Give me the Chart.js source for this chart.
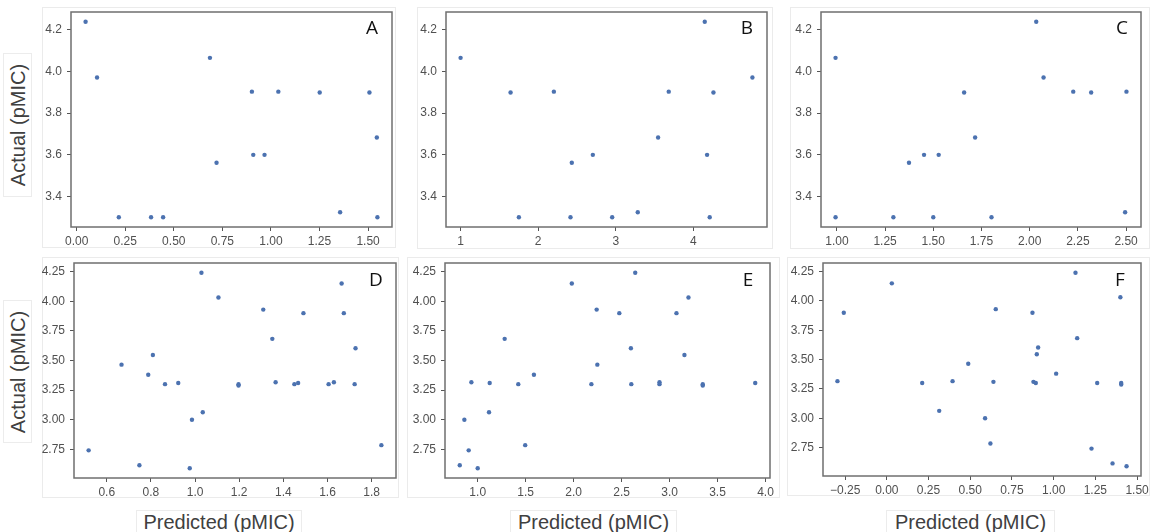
<!DOCTYPE html>
<html>
<head>
<meta charset="utf-8">
<script src="https://cdn.jsdelivr.net/npm/chart.js@4.4.1/dist/chart.umd.min.js"></script>
<style>
  html, body { margin:0; padding:0; background:#fff; }
  body { width:1150px; height:532px; overflow:hidden; position:relative; font-family:"Liberation Sans", Arial, sans-serif; }
  .sub { position:absolute; border:1px solid #ebebeb; background:#fff; box-sizing:border-box; }
  .lab { position:absolute; border:1px solid #ececec; box-sizing:border-box; }
  .lab span { position:absolute; left:50%; top:50%; white-space:nowrap; font-size:20px; color:#404040; }
  .ylab span { transform:translate(-50%,-50%) rotate(-90deg); }
  .xlab span { transform:translate(-50%,-50%); }
  canvas { position:absolute; }
</style>
</head>
<body>
<div class="sub" style="left:42px;top:7px;width:354px;height:241px"></div>
<div class="sub" style="left:417px;top:7px;width:356px;height:242px"></div>
<div class="sub" style="left:790px;top:7px;width:360px;height:242px"></div>
<div class="sub" style="left:42px;top:257px;width:357px;height:241px"></div>
<div class="sub" style="left:407px;top:257px;width:373px;height:241px"></div>
<div class="sub" style="left:787px;top:257px;width:363px;height:239px"></div>

<div class="lab ylab" style="left:3px;top:53px;width:29px;height:144px"><span>Actual (pMIC)</span></div>
<div class="lab ylab" style="left:3px;top:300px;width:29px;height:143px"><span>Actual (pMIC)</span></div>
<div class="lab xlab" style="left:136px;top:510px;width:166px;height:24px"><span>Predicted (pMIC)</span></div>
<div class="lab xlab" style="left:510px;top:510px;width:167px;height:24px"><span>Predicted (pMIC)</span></div>
<div class="lab xlab" style="left:886px;top:510px;width:169px;height:24px"><span>Predicted (pMIC)</span></div>

<script>
// ---------------- DATA ----------------
const panelLabels = ["A", "B", "C", "D", "E", "F"];

const xA = [0.046, 0.105, 0.217, 0.383, 0.445, 0.686, 0.720, 0.902, 0.909, 0.967, 1.038, 1.251, 1.356, 1.507, 1.545, 1.548];
const yA = [4.238, 3.971, 3.301, 3.301, 3.301, 4.065, 3.562, 3.903, 3.600, 3.600, 3.903, 3.899, 3.325, 3.899, 3.683, 3.301];

const xB = [1.000, 1.644, 1.751, 2.202, 2.416, 2.433, 2.704, 2.953, 3.283, 3.545, 3.682, 4.146, 4.176, 4.210, 4.258, 4.760];
const yB = [4.065, 3.899, 3.301, 3.903, 3.301, 3.562, 3.600, 3.301, 3.325, 3.683, 3.903, 4.238, 3.600, 3.301, 3.899, 3.971];

const xC = [0.993, 0.993, 1.293, 1.374, 1.452, 1.500, 1.528, 1.660, 1.717, 1.802, 2.034, 2.072, 2.226, 2.319, 2.495, 2.502];
const yC = [4.065, 3.301, 3.301, 3.562, 3.600, 3.301, 3.600, 3.899, 3.683, 3.301, 4.238, 3.971, 3.903, 3.899, 3.325, 3.903];

const xD = [0.518, 0.667, 0.748, 0.788, 0.809, 0.864, 0.924, 0.976, 0.986, 1.029, 1.035, 1.106, 1.197, 1.197, 1.309, 1.350, 1.365, 1.450, 1.467, 1.491, 1.605, 1.629, 1.664, 1.674, 1.723, 1.727, 1.844];
const yD = [2.741, 3.465, 2.615, 3.380, 3.546, 3.300, 3.310, 2.590, 3.000, 4.241, 3.063, 4.032, 3.300, 3.288, 3.930, 3.683, 3.316, 3.300, 3.310, 3.900, 3.300, 3.316, 4.150, 3.900, 3.300, 3.603, 2.785];

const xE = [0.813, 0.861, 0.906, 0.934, 1.000, 1.118, 1.125, 1.281, 1.423, 1.495, 1.586, 1.981, 2.185, 2.240, 2.247, 2.476, 2.597, 2.601, 2.642, 2.895, 2.895, 3.072, 3.155, 3.197, 3.346, 3.346, 3.893];
const yE = [2.615, 3.000, 2.741, 3.316, 2.590, 3.063, 3.310, 3.683, 3.300, 2.785, 3.380, 4.150, 3.300, 3.930, 3.465, 3.900, 3.603, 3.300, 4.241, 3.316, 3.300, 3.900, 3.546, 4.032, 3.300, 3.288, 3.310];

const xF = [-0.296, -0.258, 0.030, 0.212, 0.314, 0.394, 0.488, 0.589, 0.621, 0.639, 0.653, 0.873, 0.879, 0.893, 0.899, 0.907, 1.015, 1.131, 1.141, 1.227, 1.261, 1.353, 1.400, 1.405, 1.405, 1.437];
const yF = [3.316, 3.900, 4.150, 3.300, 3.063, 3.316, 3.465, 3.000, 2.785, 3.310, 3.930, 3.900, 3.310, 3.300, 3.546, 3.603, 3.380, 4.241, 3.683, 2.741, 3.300, 2.615, 4.032, 3.300, 3.288, 2.590];

// tick labels
const xTicksA = [0.00, 0.25, 0.50, 0.75, 1.00, 1.25, 1.50];
const xTicksB = [1, 2, 3, 4];
const xTicksC = [1.00, 1.25, 1.50, 1.75, 2.00, 2.25, 2.50];
const xTicksD = [0.6, 0.8, 1.0, 1.2, 1.4, 1.6, 1.8];
const xTicksE = [1.0, 1.5, 2.0, 2.5, 3.0, 3.5, 4.0];
const xTicksF = [-0.25, 0.00, 0.25, 0.50, 0.75, 1.00, 1.25, 1.50];
const yTicksTop = [3.4, 3.6, 3.8, 4.0, 4.2];
const yTicksBottom = [2.75, 3.00, 3.25, 3.50, 3.75, 4.00, 4.25];

// ---------------- LAYOUT / STYLE ----------------
const FONT = '"Liberation Sans", Arial, sans-serif';
const YW = 50, PT = 10, PR = 18, XH = 30;

const panels = [
  { x: xA, y: yA, xt: xTicksA, yt: yTicksTop, xd: 2, yd: 1, f: [71, 12, 392, 227], lo: [20, 17] },
  { x: xB, y: yB, xt: xTicksB, yt: yTicksTop, xd: 0, yd: 1, f: [446, 12, 767, 227], lo: [20, 17] },
  { x: xC, y: yC, xt: xTicksC, yt: yTicksTop, xd: 2, yd: 1, f: [821, 12, 1141, 227], lo: [19, 17] },
  { x: xD, y: yD, xt: xTicksD, yt: yTicksBottom, xd: 1, yd: 2, f: [74, 263, 396, 478], lo: [20, 18] },
  { x: xE, y: yE, xt: xTicksE, yt: yTicksBottom, xd: 1, yd: 2, f: [445, 263, 770, 478], lo: [22, 18] },
  { x: xF, y: yF, xt: xTicksF, yt: yTicksBottom, xd: 2, yd: 2, f: [823, 263, 1141, 476], lo: [21, 18] }
];

function fmt(v, d) {
  const s = Number(v).toFixed(d);
  return s.replace('-', '\u2212');
}
function lims(arr) {
  const mn = Math.min(...arr), mx = Math.max(...arr), m = (mx - mn) * 0.05;
  return [mn - m, mx + m];
}

const framePlugin = {
  id: 'frame',
  beforeDatasetsDraw(chart) {
    const a = chart.chartArea, ctx = chart.ctx;
    ctx.save();
    ctx.strokeStyle = '#6f6f6f';
    ctx.lineWidth = 1.5;
    ctx.strokeRect(a.left, a.top, a.right - a.left, a.bottom - a.top);
    ctx.restore();
  },
  afterDraw(chart, args, opts) {
    const a = chart.chartArea, ctx = chart.ctx;
    ctx.save();
    ctx.fillStyle = '#111';
    ctx.font = '19px "Open Sans", "Liberation Sans", sans-serif';
    ctx.textAlign = 'center';
    ctx.textBaseline = 'middle';
    ctx.fillText(opts.letter, a.right - opts.lo[0], a.top + opts.lo[1]);
    ctx.restore();
  }
};

panels.forEach((p, i) => {
  const [L, T, R, B] = p.f;
  const cv = document.createElement('canvas');
  const w = (R - L) + YW + PR, h = (B - T) + PT + XH;
  cv.width = w; cv.height = h;
  cv.style.left = (L - YW) + 'px';
  cv.style.top = (T - PT) + 'px';
  cv.style.width = w + 'px'; cv.style.height = h + 'px';
  document.body.appendChild(cv);

  const [xmin, xmax] = lims(p.x);
  const [ymin, ymax] = lims(p.y);
  const pts = p.x.map((v, k) => ({ x: v, y: p.y[k] }));
  const tickFont = { size: 12, family: FONT };

  new Chart(cv.getContext('2d'), {
    type: 'scatter',
    data: { datasets: [{ data: pts, backgroundColor: '#4C72B0', borderColor: '#4C72B0', borderWidth: 0, pointRadius: 2.2, pointHoverRadius: 2.2 }] },
    options: {
      responsive: false, animation: false, devicePixelRatio: 1,
      layout: { padding: { left: 0, top: PT, right: PR, bottom: 0 } },
      plugins: { legend: { display: false }, tooltip: { enabled: false }, frame: { letter: panelLabels[i], lo: p.lo } },
      scales: {
        x: {
          type: 'linear', min: xmin, max: xmax,
          afterBuildTicks: a => { a.ticks = p.xt.map(v => ({ value: v })); },
          afterFit: a => { a.height = XH; a.paddingLeft = 0; a.paddingRight = 0; },
          grid: { display: true, drawOnChartArea: false, drawTicks: true, tickLength: 4, color: '#555', lineWidth: 1 },
          border: { display: false },
          ticks: { font: tickFont, color: '#505050', padding: 3, maxRotation: 0, autoSkip: false, callback: v => fmt(v, p.xd) }
        },
        y: {
          type: 'linear', min: ymin, max: ymax,
          afterBuildTicks: a => { a.ticks = p.yt.map(v => ({ value: v })); },
          afterFit: a => { a.width = YW; a.paddingTop = 0; a.paddingBottom = 0; },
          grid: { display: true, drawOnChartArea: false, drawTicks: true, tickLength: 4, color: '#555', lineWidth: 1 },
          border: { display: false },
          ticks: { font: tickFont, color: '#505050', padding: 5, autoSkip: false, callback: v => fmt(v, p.yd) }
        }
      }
    },
    plugins: [framePlugin]
  });
});
</script>
</body>
</html>
